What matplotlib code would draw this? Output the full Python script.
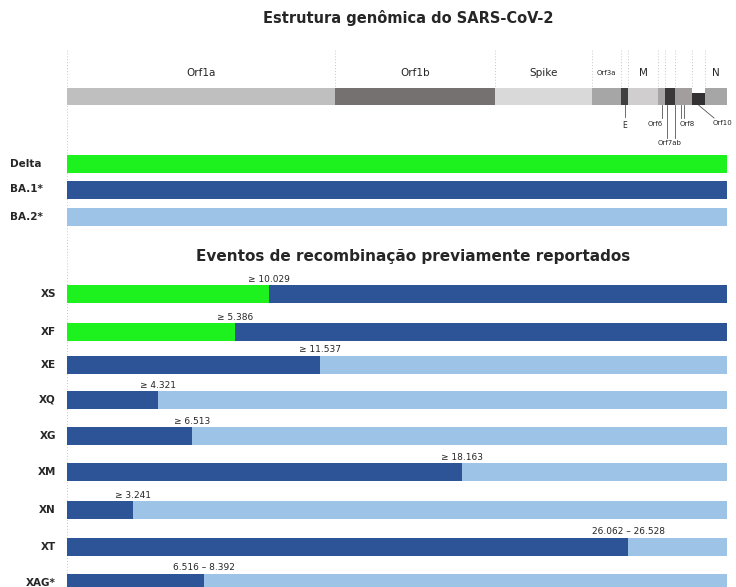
import numpy as np
import matplotlib.pyplot as plt

# genome layout (nt)
GENOME_LEN = 29903
seg_names = ["Orf1a", "Orf1b", "Spike", "Orf3a", "E", "M", "Orf6", "Orf7ab", "Orf8", "Orf10", "N"]
seg_start = [0, 12143, 19392, 23787, 25101, 25418, 26777, 27094, 27547, 28318, 28907]
seg_end = [12143, 19392, 23787, 25101, 25418, 26777, 27094, 27547, 28318, 28907, 29903]
seg_colors = ["#BFBFBF", "#757171", "#D9D9D9", "#A6A6A6", "#404040", "#D0CECE",
              "#A6A6A6", "#3A3838", "#A39E9E", "#333131", "#A6A6A6"]
top_labels = ["Orf1a", "Orf1b", "Spike", "Orf3a", "M", "N"]
bottom_labels = ["E", "Orf6", "Orf7ab", "Orf8", "Orf10"]

# parental lineages
lineages = ["Delta", "BA.1*", "BA.2*"]
lineage_colors = ["#1EF21E", "#2C5496", "#9DC3E6"]

# recombinants: breakpoint position (nt, as drawn) and label
recomb = ["XS", "XF", "XE", "XQ", "XG", "XM", "XN", "XT", "XAG*"]
split = [9153, 7612, 11464, 4123, 5664, 17898, 2991, 25419, 6207]
left_parent = ["Delta", "Delta", "BA.1*", "BA.1*", "BA.1*", "BA.1*", "BA.1*", "BA.1*", "BA.1*"]
right_parent = ["BA.1*", "BA.1*", "BA.2*", "BA.2*", "BA.2*", "BA.2*", "BA.2*", "BA.2*", "BA.2*"]
bp_labels = ["≥ 10.029", "≥ 5.386", "≥ 11.537", "≥ 4.321", "≥ 6.513", "≥ 18.163",
             "≥ 3.241", "26.062 – 26.528", "6.516 – 8.392"]

col = dict(zip(lineages, lineage_colors))
txt = "#262626"
guide = "#C8C8C8"

fig = plt.figure(figsize=(7.36, 5.87), dpi=100)
W, H = 736, 587
x0, x1 = 67, 727
ax = fig.add_axes([x0 / W, 0, (x1 - x0) / W, 1])
ax.set_xlim(0, GENOME_LEN)
ax.set_ylim(H, 0)
ax.axis("off")

# outer dotted guides
for xv in [0, GENOME_LEN]:
    ax.plot([xv, xv], [50, H], ls=(0, (1, 2)), color=guide, lw=0.7, zorder=0)

# genome bar
gy, gh = 88, 17
for name, s, e, c in zip(seg_names, seg_start, seg_end, seg_colors):
    if name == "Orf10":
        ax.bar(s, gh - 5, width=e - s, bottom=gy + 5, align="edge", color=c, zorder=3)
    else:
        ax.bar(s, gh, width=e - s, bottom=gy, align="edge", color=c, zorder=2)
for b in sorted(set(seg_start[1:])):
    ax.plot([b, b], [50, gy], ls=(0, (1, 2)), color=guide, lw=0.7, zorder=0)

for name in top_labels:
    i = seg_names.index(name)
    xc = (seg_start[i] + seg_end[i]) / 2
    fs = 5 if name == "Orf3a" else 7.5
    ax.text(xc, 73, name, ha="center", va="center", fontsize=fs, color=txt)

line_c = "#555555"
for name in bottom_labels:
    i = seg_names.index(name)
    xc = (seg_start[i] + seg_end[i]) / 2
    if name == "Orf10":
        ax.plot([xc, xc + 700], [gy + gh, 118], color=line_c, lw=0.6)
        ax.text(xc + 650, 123, name, ha="left", va="center", fontsize=5, color=txt)
    elif name == "Orf7ab":
        ax.plot([seg_start[i] + 90, seg_start[i] + 90], [gy + gh, 138], color=line_c, lw=0.6)
        ax.plot([seg_end[i], seg_end[i]], [gy + gh, 138], color=line_c, lw=0.6)
        ax.text(xc, 143, name, ha="center", va="center", fontsize=5, color=txt)
    elif name == "E":
        ax.plot([xc, xc], [gy + gh, 117], color=line_c, lw=0.6)
        ax.text(xc, 126, name, ha="center", va="center", fontsize=5.5, color=txt)
    elif name == "Orf6":
        ax.plot([xc, xc], [gy + gh, 118], color=line_c, lw=0.6)
        ax.text(xc - 300, 124, name, ha="center", va="center", fontsize=5, color=txt)
    else:
        ax.plot([xc - 100, xc - 100], [gy + gh, 118], color=line_c, lw=0.6)
        ax.plot([xc + 40, xc + 40], [gy + gh, 118], color=line_c, lw=0.6)
        ax.text(xc + 160, 124, name, ha="center", va="center", fontsize=5, color=txt)

fig.text(408 / W, 1 - 18 / H, "Estrutura genômica do SARS-CoV-2", ha="center", va="center",
         fontsize=10.5, color=txt, fontweight="semibold")

# parental lineages
ly = [163.5, 189.5, 217]
bh = 18
for name, yc in zip(lineages, ly):
    ax.barh(yc, GENOME_LEN, height=bh, left=0, color=col[name], zorder=2)
    fig.text(10 / W, 1 - yc / H, name, ha="left", va="center", fontsize=7.5,
             color=txt, fontweight="bold")

fig.text(413 / W, 1 - 256 / H, "Eventos de recombinação previamente reportados",
         ha="center", va="center", fontsize=11, color=txt, fontweight="bold")

# recombinants
ry = [294, 332, 365, 400, 436, 472, 510, 547, 583]
for name, yc, sp, lp, rp, lab in zip(recomb, ry, split, left_parent, right_parent, bp_labels):
    ax.barh(yc, sp, height=bh, left=0, color=col[lp], zorder=2)
    ax.barh(yc, GENOME_LEN - sp, height=bh, left=sp, color=col[rp], zorder=2)
    ax.text(sp, yc - bh / 2 - 6, lab, ha="center", va="center", fontsize=6.5, color=txt)
    fig.text(56 / W, 1 - yc / H, name, ha="right", va="center", fontsize=7.5,
             color=txt, fontweight="bold")

fig.savefig("out.png", dpi=100)
